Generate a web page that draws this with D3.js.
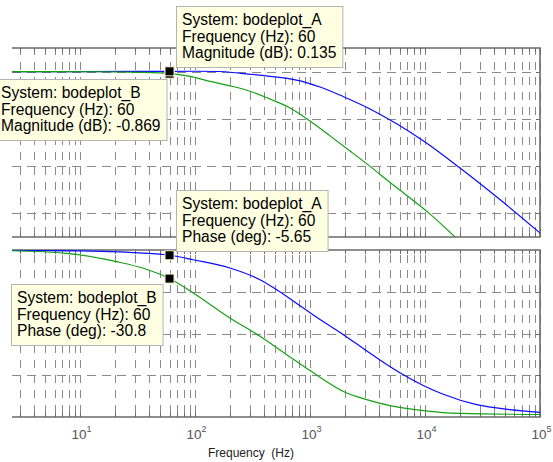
<!DOCTYPE html>
<html>
<head>
<meta charset="utf-8">
<script src="https://cdn.jsdelivr.net/npm/d3@7"></script>
<style>
  body { margin: 0; background: #ffffff; }
  svg { display: block; font-family: "Liberation Sans", Arial, sans-serif; }
</style>
</head>
<body>
<script>

// данные

var mag_A_freq = [2.56, 10, 30, 60, 100, 160, 250, 449, 670, 869, 1222, 1936, 3327, 5715, 10000, 20150, 47640, 100000];
var mag_A_db = [0, 0.03, 0.08, 0.135, 0.15, 0.05, -0.7, -2.0, -3.1, -4.2, -6.5, -10.5, -15.8, -22.2, -29.8, -40.8, -55.2, -68.3];

var mag_B_freq = [2.56, 15, 33, 60, 90.5, 135, 201, 301, 449, 670, 1000, 1493, 2229, 3327, 4966, 7413, 11070, 18240];
var mag_B_db = [0, -0.05, -0.3, -0.869, -2.0, -4.1, -6.0, -8.3, -11.6, -15.4, -20.9, -27.2, -33.6, -40.1, -46.9, -53.5, -60.3, -70];

var phase_A_freq = [2.56, 10, 27, 60, 96.5, 201, 367, 513, 875, 1143, 1950, 2906, 4337, 6475, 9660, 14420, 28120, 54800, 100000];
var phase_A_deg = [-0.3, -1.0, -2.6, -5.65, -10.5, -19.4, -32, -42.8, -62.5, -72.5, -91.3, -106.2, -121, -134.5, -146, -155.5, -166.7, -172.1, -175.1];

var phase_B_freq = [2.56, 7.66, 20.8, 35.5, 60, 96.5, 201, 367, 627, 1000, 1950, 3110, 4966, 9660, 20140, 100000];
var phase_B_deg = [-0.8, -3.6, -12.6, -19.7, -30.8, -46.3, -73.3, -93, -112.8, -130, -152.5, -161.3, -167.8, -173.2, -176.2, -177.3];

// подсказки (data tips) в точке 60 Гц
var tip_freq = 60;
var tip_mag = [0.135, -0.869];      // A, B
var tip_phase = [-5.65, -30.8];     // A, B
var tip_systems = ["bodeplot_A", "bodeplot_B"];

// оси
var freq_domain = [2.56, 1e5];
var mag_domain = [10, -70];
var phase_domain = [0, -180];
var mag_ticks = [0, -20, -40, -60];
var phase_ticks = [-45, -90, -135];
var x_label_ticks = [1e1, 1e2, 1e3, 1e4, 1e5];
var x_label_powers = ["1", "2", "3", "4", "5"];

var body = d3.select("body");

var svg = body.append("svg")  // холст
    .attr("width", 553)
    .attr("height", 462);

var plot_left = 12, plot_right = 540;

var x = d3.scaleLog().domain(freq_domain).range([plot_left, plot_right]);
var y_mag = d3.scaleLinear().domain(mag_domain).range([48, 237]);
var y_phase = d3.scaleLinear().domain(phase_domain).range([250, 417]);

var grid_color = "#8a8a8a";
var frame_color = "#6a6a6a";

function crisp(v) { return Math.round(v) + 0.5; }

// рисуем одну панель: сетка, рамка, засечки
function draw_panel(y, h_ticks, v_offset) {
    var top = y.range()[0], bottom = y.range()[1];
    var g = svg.append("g");

    // вертикальная сетка (пунктир)
    g.selectAll("line.vgrid")
        .data(x.ticks())
        .enter().append("line")
        .attr("x1", function(d) { return crisp(x(d)); })
        .attr("x2", function(d) { return crisp(x(d)); })
        .attr("y1", top)
        .attr("y2", bottom)
        .style("stroke", grid_color)
        .style("stroke-width", 1)
        .style("stroke-dasharray", "8,7")
        .style("stroke-dashoffset", v_offset);

    // горизонтальная сетка
    g.selectAll("line.hgrid")
        .data(h_ticks)
        .enter().append("line")
        .attr("x1", plot_left)
        .attr("x2", plot_right)
        .attr("y1", function(d) { return crisp(y(d)); })
        .attr("y2", function(d) { return crisp(y(d)); })
        .style("stroke", grid_color)
        .style("stroke-width", 1)
        .style("stroke-dasharray", "9,6");

    // засечки сверху и снизу
    g.selectAll("line.tick_b")
        .data(x.ticks())
        .enter().append("line")
        .attr("x1", function(d) { return crisp(x(d)); })
        .attr("x2", function(d) { return crisp(x(d)); })
        .attr("y1", bottom)
        .attr("y2", bottom - 4)
        .style("stroke", frame_color)
        .style("stroke-width", 1);

    g.selectAll("line.tick_t")
        .data(x.ticks())
        .enter().append("line")
        .attr("x1", function(d) { return crisp(x(d)); })
        .attr("x2", function(d) { return crisp(x(d)); })
        .attr("y1", top)
        .attr("y2", top + 4)
        .style("stroke", frame_color)
        .style("stroke-width", 1);

    // засечки справа
    g.selectAll("line.tick_r")
        .data(h_ticks)
        .enter().append("line")
        .attr("x1", plot_right)
        .attr("x2", plot_right - 4)
        .attr("y1", function(d) { return crisp(y(d)); })
        .attr("y2", function(d) { return crisp(y(d)); })
        .style("stroke", frame_color)
        .style("stroke-width", 1);

    // рамка без левого края (картинка обрезана)
    g.append("polyline")
        .attr("points", plot_left + "," + top + " " + plot_right + "," + top + " " +
                        plot_right + "," + bottom + " " + plot_left + "," + bottom)
        .style("fill", "none")
        .style("stroke", frame_color)
        .style("stroke-width", 1.6);
}

draw_panel(y_mag, mag_ticks, 1);
draw_panel(y_phase, phase_ticks, 10);

// области отсечения
var defs = svg.append("defs");
defs.append("clipPath").attr("id", "clip_mag")
    .append("rect")
    .attr("x", plot_left).attr("y", y_mag.range()[0])
    .attr("width", plot_right - plot_left)
    .attr("height", y_mag.range()[1] - y_mag.range()[0]);
defs.append("clipPath").attr("id", "clip_phase")
    .append("rect")
    .attr("x", plot_left).attr("y", y_phase.range()[0])
    .attr("width", plot_right - plot_left)
    .attr("height", y_phase.range()[1] - y_phase.range()[0]);

function zip(a, b) { return a.map(function(v, i) { return [v, b[i]]; }); }

function draw_curve(freqs, vals, y, clip, color) {
    var line = d3.line()
        .x(function(d) { return x(d[0]); })
        .y(function(d) { return y(d[1]); })
        .curve(d3.curveMonotoneX);
    svg.append("path")
        .datum(zip(freqs, vals))
        .attr("d", line)
        .attr("clip-path", "url(#" + clip + ")")
        .style("fill", "none")
        .style("stroke", color)
        .style("stroke-width", 1.2);
}

var blue = "#0a0aff", green = "#14a014";

draw_curve(mag_A_freq, mag_A_db, y_mag, "clip_mag", blue);
draw_curve(mag_B_freq, mag_B_db, y_mag, "clip_mag", green);
draw_curve(phase_A_freq, phase_A_deg, y_phase, "clip_phase", blue);
draw_curve(phase_B_freq, phase_B_deg, y_phase, "clip_phase", green);

// подписи оси x: 10^n
var x_labels = svg.append("g")
    .style("fill", "#555555");

x_label_ticks.forEach(function(f, i) {
    var t = x_labels.append("text")
        .attr("x", x(f) - 8.5)
        .attr("y", 439)
        .style("font-size", "13.5px");
    t.append("tspan").text("10");
    t.append("tspan")
        .attr("dy", -7.5)
        .style("font-size", "9px")
        .text(x_label_powers[i]);
});

svg.append("text")
    .attr("x", 251)
    .attr("y", 457)
    .attr("text-anchor", "middle")
    .attr("xml:space", "preserve")
    .style("white-space", "pre")
    .style("font-size", "12px")
    .style("fill", "#222222")
    .text("Frequency  (Hz)");

// маркеры и подсказки
function add_tip(f, v, y, lines, side) {
    var mx = x(f), my = y(v);

    svg.append("rect")
        .attr("x", mx - 4.5)
        .attr("y", my - 4.5)
        .attr("width", 9)
        .attr("height", 9)
        .style("fill", "#000000")
        .style("stroke", "#f4f0c8")
        .style("stroke-width", 1);

    var g = svg.append("g");
    var box = g.append("rect");
    var texts = lines.map(function(s, i) {
        return g.append("text")
            .attr("y", 19 + i * 16.5)
            .style("font-size", "15.6px")
            .style("fill", "#000000")
            .text(s);
    });
    var w = d3.max(texts, function(t) { return t.node().getComputedTextLength(); }) + 12;
    var h = 61;

    var bx, by;
    if (side === "ur") { bx = mx + 6.5; by = my - 4 - h; }
    else { bx = Math.max(mx - 6.5 - w, -5); by = my + 5; }  // текст не уходит за левый край

    box.attr("x", 0.5).attr("y", 0.5)
        .attr("width", w).attr("height", h)
        .style("fill", "#ffffe1")
        .style("stroke", "#b4b4b4")
        .style("stroke-width", 1);
    texts.forEach(function(t) { t.attr("x", 6); });
    g.attr("transform", "translate(" + Math.round(bx) + "," + Math.round(by) + ")");
}

add_tip(tip_freq, tip_mag[1], y_mag, ["System: " + tip_systems[1], "Frequency (Hz): " + tip_freq, "Magnitude (dB): " + tip_mag[1]], "dl");
add_tip(tip_freq, tip_mag[0], y_mag, ["System: " + tip_systems[0], "Frequency (Hz): " + tip_freq, "Magnitude (dB): " + tip_mag[0]], "ur");
add_tip(tip_freq, tip_phase[0], y_phase, ["System: " + tip_systems[0], "Frequency (Hz): " + tip_freq, "Phase (deg): " + tip_phase[0]], "ur");
add_tip(tip_freq, tip_phase[1], y_phase, ["System: " + tip_systems[1], "Frequency (Hz): " + tip_freq, "Phase (deg): " + tip_phase[1]], "dl");

</script>
</body>
</html>
